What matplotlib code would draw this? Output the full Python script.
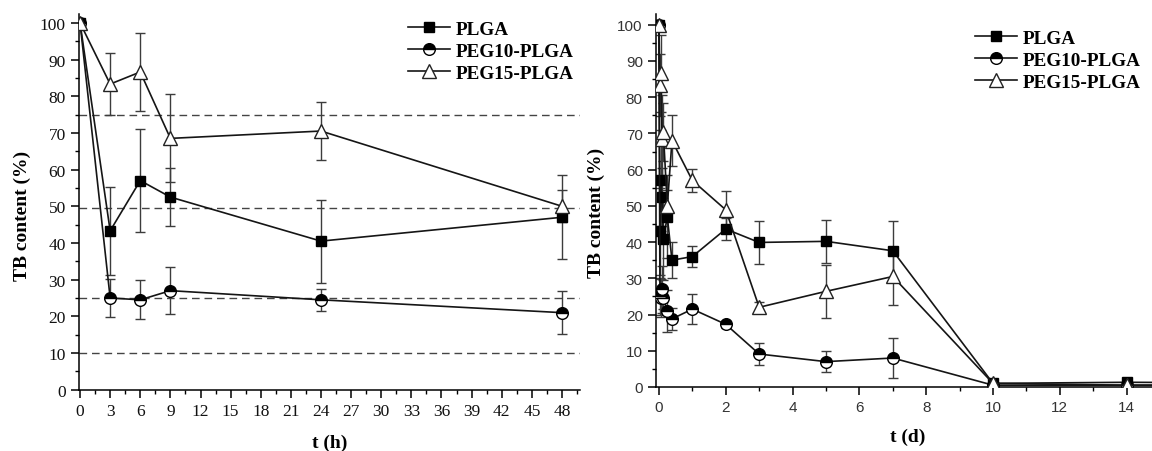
import matplotlib
matplotlib.use("Agg")
import matplotlib.pyplot as plt
from matplotlib.ticker import MultipleLocator

# release in the first 48 h
t_h = [0, 3, 6, 9, 24, 48]
plga_h = [100, 43.3, 57, 52.5, 40.5, 47]
plga_h_err = [0, 12, 14, 8, 11.3, 11.4]
peg10_h = [100, 25, 24.5, 27, 24.5, 21]
peg10_h_err = [0, 5.2, 5.3, 6.5, 3, 5.8]
peg15_h = [100, 83.3, 86.6, 68.5, 70.5, 50]
peg15_h_err = [0, 8.5, 10.6, 12, 8, 4.3]

# release over days
t_d = [0, 0.03, 0.06, 0.09, 0.13, 0.25, 0.39, 1, 2, 3, 5, 7, 10, 14, 21]
plga_d = [100, 43, 57, 52.5, 40.8, 47, 35, 36, 43.6, 39.9, 40.2, 37.6, 1, 1.3, 1]
plga_d_err = [0, 12, 14, 8, 11.3, 11.4, 5, 3, 3, 6, 6, 8.3, 0.5, 0.5, 0.5]
peg10_d = [100, 25, 24.5, 27, 24.5, 21, 18.8, 21.5, 17.3, 9.1, 7.0, 8.0, 0.5, 0.5, 0.5]
peg10_d_err = [0, 5.2, 5.3, 6.5, 3, 5.8, 3, 4.2, 1, 3, 2.8, 5.5, 0.3, 0.3, 0.3]
peg15_d = [100, 83.3, 86.6, 68.5, 70.5, 50, 68, 57, 48.9, 22, 26.4, 30.5, 1, 0.5, 0.5]
peg15_d_err = [0, 8.5, 10.6, 12, 8, 4.3, 7, 3.3, 5.3, 1.5, 7.3, 7.8, 0.5, 0.3, 0.3]

guide_levels = [75, 49.5, 25, 10]

LINE = "#151515"
ERR = "#3c3c3c"
SERIF = "Liberation Serif"
SANS = "Liberation Sans"

STYLES = {
    "PLGA": dict(marker="s", ms=7.6, mfc="black", mec="black"),
    "PEG10-PLGA": dict(marker="o", ms=8.4, fillstyle="top", mfc="black",
                       markerfacecoloralt="white", mec="black"),
    "PEG15-PLGA": dict(marker="^", ms=9.6, mfc="white", mec="#222222",
                       mew=1.0),
}


def draw_series(ax, t, y, err, label):
    ax.errorbar(t, y, yerr=err, fmt="none", ecolor=ERR, elinewidth=1.0,
                capsize=3.4, capthick=1.0, zorder=2)
    ax.plot(t, y, color=LINE, lw=1.2, label=label, zorder=3,
            **STYLES[label])


def style_axes(ax, tick_font, tick_size, tick_color):
    for side in ("top", "right"):
        ax.spines[side].set_visible(False)
    for side in ("left", "bottom"):
        ax.spines[side].set_linewidth(1.1)
    ax.tick_params(which="major", direction="out", length=6, width=1.1,
                   labelsize=tick_size, labelcolor=tick_color)
    ax.tick_params(which="minor", direction="out", length=3, width=1.0)
    for lab in ax.get_xticklabels() + ax.get_yticklabels():
        lab.set_fontfamily(tick_font)
    ax.yaxis.set_major_locator(MultipleLocator(10))
    ax.yaxis.set_minor_locator(MultipleLocator(5))


fig = plt.figure(figsize=(11.52, 4.52), dpi=100)

# hours panel
ax1 = fig.add_axes([0.0686, 0.1356, 0.4349, 0.8312])
for hy in guide_levels:
    ax1.axhline(hy, color="#444444", lw=1.0, dashes=(5.5, 3.5), zorder=1)
draw_series(ax1, t_h, plga_h, plga_h_err, "PLGA")
draw_series(ax1, t_h, peg10_h, peg10_h_err, "PEG10-PLGA")
draw_series(ax1, t_h, peg15_h, peg15_h_err, "PEG15-PLGA")
ax1.set_xlim(-0.1, 49.8)
ax1.set_ylim(0, 102.4)
ax1.xaxis.set_major_locator(MultipleLocator(3))
ax1.xaxis.set_minor_locator(MultipleLocator(1.5))
style_axes(ax1, SERIF, 12.5, "#111111")

# days panel
ax2 = fig.add_axes([0.5694, 0.1416, 0.4306, 0.8252])
draw_series(ax2, t_d, plga_d, plga_d_err, "PLGA")
draw_series(ax2, t_d, peg10_d, peg10_d_err, "PEG10-PLGA")
draw_series(ax2, t_d, peg15_d, peg15_d_err, "PEG15-PLGA")
ax2.set_xlim(-0.09, 14.76)
ax2.set_ylim(0, 102.95)
ax2.xaxis.set_major_locator(MultipleLocator(2))
ax2.xaxis.set_minor_locator(MultipleLocator(1))
style_axes(ax2, SANS, 11, "#333333")

label_font = dict(family=SERIF, weight="bold", size=14)
fig.text(0.019, 0.522, "TB content (%)", rotation=90, ha="center",
         va="center", **label_font)
fig.text(0.518, 0.528, "TB content (%)", rotation=90, ha="center",
         va="center", **label_font)
fig.text(0.2865, 0.02, "t (h)", ha="center", va="center", **label_font)
fig.text(0.788, 0.033, "t (d)", ha="center", va="center", **label_font)

legend_kw = dict(loc="upper left", bbox_transform=fig.transFigure,
                 frameon=False, borderpad=0, borderaxespad=0,
                 handlelength=2.2, handletextpad=0.3, labelspacing=0.25,
                 prop=dict(family=SERIF, weight="bold", size=13.8))
ax1.legend(bbox_to_anchor=(0.354, 0.953), **legend_kw)
ax2.legend(bbox_to_anchor=(0.846, 0.933), **legend_kw)

fig.savefig("out.png", dpi=100)
